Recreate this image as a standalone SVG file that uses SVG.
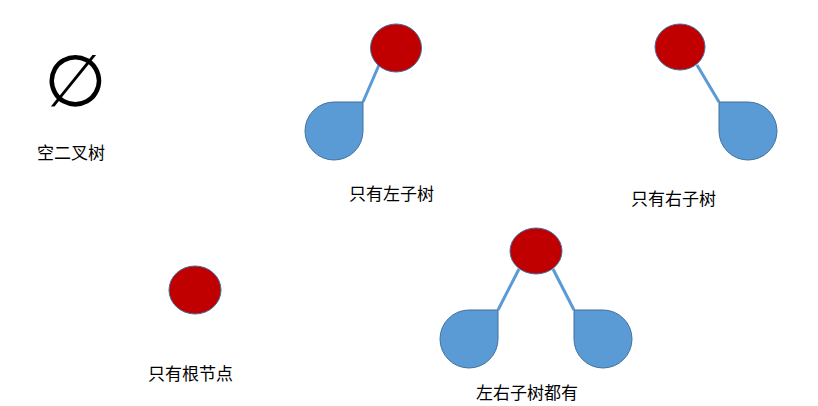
<svg xmlns="http://www.w3.org/2000/svg" width="818" height="406" viewBox="0 0 818 406">
<style>
.r{fill:#c00000;stroke:#41719c;stroke-width:1}
.b{fill:#5b9bd5;stroke:#41719c;stroke-width:1}
.e{stroke:#5b9bd5;stroke-width:3;fill:none}
text{font-family:"Liberation Serif","Noto Sans CJK SC",serif;font-size:17px;fill:#000}
</style>
<rect width="818" height="406" fill="#fff"/>
<g id="connectors">
<line class="e" x1="379" y1="65" x2="363" y2="102"/>
<line class="e" x1="697" y1="65" x2="719" y2="102"/>
<line class="e" x1="519" y1="269" x2="498" y2="310"/>
<line class="e" x1="553" y1="269" x2="574" y2="310"/>
</g>
<g id="empty"><text x="44" y="106" style="font-family:'Liberation Sans',sans-serif;font-size:72px">∅</text><text x="37" y="159">空二叉树</text></g>
<g id="left-root"><ellipse class="r" cx="396" cy="48" rx="25.5" ry="24"/></g>
<g id="left-child"><path class="b" d="M334,102 H363 V131 A29 29 0 1 1 334,102 Z"/></g>
<text x="349" y="200">只有左子树</text>
<g id="right-root"><ellipse class="r" cx="680" cy="47" rx="25" ry="23"/></g>
<g id="right-child"><path class="b" d="M719,102 H748 A29 29 0 1 1 719,131 Z"/></g>
<text x="631" y="205">只有右子树</text>
<g id="root-only"><ellipse class="r" cx="195" cy="290" rx="26" ry="24"/></g>
<text x="148" y="380">只有根节点</text>
<g id="both-root"><ellipse class="r" cx="536" cy="251" rx="26" ry="23"/></g>
<g id="both-left"><path class="b" d="M469,310 H498 V339 A29 29 0 1 1 469,310 Z"/></g>
<g id="both-right"><path class="b" d="M574,310 H603 A29 29 0 1 1 574,339 Z"/></g>
<text x="476" y="399">左右子树都有</text>
</svg>
